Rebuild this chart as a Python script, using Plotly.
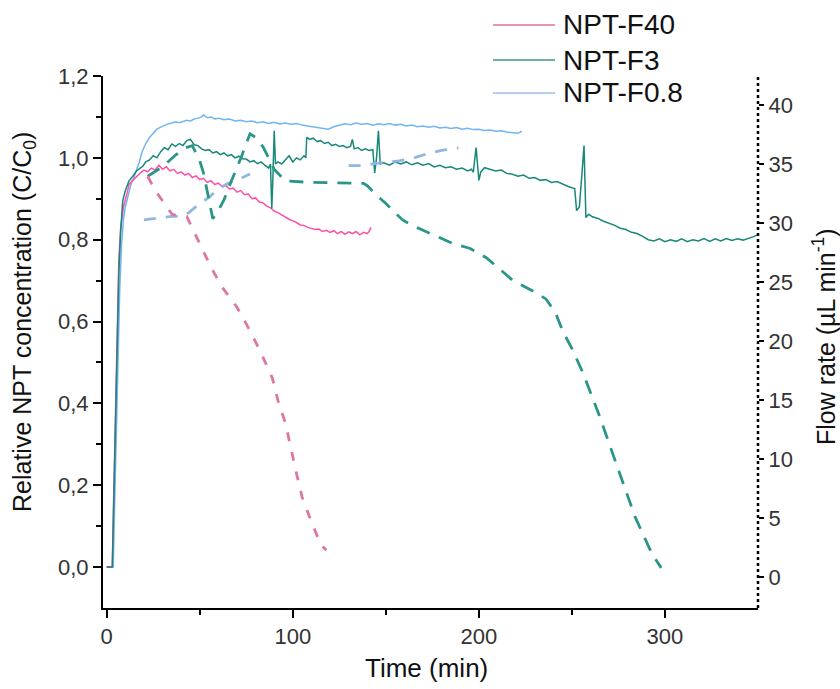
import plotly.graph_objects as go

# ---------------- data ----------------
# Relative NPT concentration C/C0 vs time (min)
F40_CONC = [(0,0),(3,0),(3.5,0.12),(4.5,0.35),(5.5,0.6),(6.5,0.75),(7.5,0.83),(9,0.88),(11,0.915),(12,0.935),
            (14,0.945),(16,0.955),(18,0.963),(20,0.97),(22,0.966),(24,0.975),(26,0.97),(28,0.982),(30,0.972),(32,0.978),
            (34,0.968),(36,0.972),(38,0.962),(40,0.966),(42,0.958),(44,0.962),(46,0.952),(48,0.956),(50,0.947),(52,0.95),
            (54,0.94),(56,0.944),(58,0.935),(60,0.938),(62,0.93),(64,0.932),(66,0.924),(68,0.926),(70,0.916),(72,0.92),
            (74,0.91),(76,0.912),(78,0.9),(80,0.902),(82,0.892),(84,0.89),(86,0.882),(88,0.878),(90,0.87),(92,0.866),
            (94,0.86),(96,0.855),(98,0.85),(100,0.846),(102,0.842),(104,0.836),(106,0.835),(108,0.83),(110,0.828),(112,0.825),
            (114,0.826),(116,0.82),(118,0.823),(120,0.818),(122,0.822),(124,0.815),(126,0.82),(128,0.813),(130,0.819),(132,0.815),
            (134,0.82),(136,0.812),(138,0.818),(140,0.815),(141,0.82),(142,0.83)]

F3_CONC = [(0,0),(3,0),(3.5,0.1),(4.5,0.3),(5.5,0.55),(6.5,0.72),(7.5,0.82),(8.6,0.895),(10,0.92),(12,0.944),
           (14,0.955),(16,0.968),(18,0.975),(19.5,0.98),(21,0.99),(23,0.995),(25,1.005),(27,1.0),(29,1.015),(31,1.025),
           (33,1.02),(35,1.034),(37,1.028),(39,1.035),(41,1.03),(43,1.042),(45,1.045),(47,1.032),(49,1.03),(51,1.022),
           (53,1.018),(55,1.02),(57,1.012),(59,1.015),(61,1.008),(63,1.012),(65,1.005),(67,1.008),(69,1.0),(71,1.004),
           (73,0.998),(75,0.997),(77,0.99),(79,0.993),(81,0.986),(83,0.99),(85,0.982),(87,0.975),(88,0.985),(88.7,0.876),
           (89.3,0.95),(90,1.066),(90.7,0.985),(92,0.99),(94,0.985),(96,0.995),(98,1.005),(100,0.99),(102,1.0),(104,0.995),
           (106,1.005),(107,1.0),(107.5,1.05),(109,1.045),(111,1.048),(113,1.04),(115,1.042),(117,1.035),(119,1.038),(121,1.03),
           (123,1.033),(125,1.028),(127,1.03),(129,1.025),(131,1.028),(132,1.045),(133,1.022),(135,1.025),(137,1.018),(139,1.022),
           (141,1.018),(143,1.02),(144,0.963),(145,1.0),(146,1.066),(147,0.985),(149,0.988),(152,0.982),(155,0.99),(158,0.985),
           (161,0.99),(164,0.983),(167,0.988),(170,0.982),(173,0.986),(176,0.978),(179,0.982),(182,0.976),(185,0.978),(188,0.972),
           (191,0.975),(194,0.968),(196,0.972),(197,0.965),(198.5,1.025),(200,0.945),(201,0.965),(203,0.976),(206,0.972),(209,0.968),
           (212,0.97),(215,0.962),(218,0.96),(221,0.955),(224,0.958),(227,0.95),(230,0.952),(233,0.945),(236,0.947),(239,0.94),
           (242,0.942),(245,0.935),(248,0.93),(250,0.927),(251.5,0.925),(252.5,0.871),(254,0.88),(255.5,0.968),(256.5,1.03),(257.5,0.854),
           (259,0.862),(261,0.856),(264,0.852),(267,0.845),(270,0.84),(273,0.835),(276,0.828),(279,0.825),(282,0.818),(285,0.815),
           (288,0.808),(291,0.8),(294,0.797),(297,0.802),(300,0.795),(303,0.8),(306,0.796),(309,0.802),(312,0.795),(315,0.8),
           (318,0.797),(321,0.803),(324,0.796),(327,0.802),(330,0.797),(333,0.803),(336,0.798),(339,0.802),(342,0.799),(345,0.803),
           (348,0.808),(350,0.812)]

F08_CONC = [(0,0),(3.5,0),(4,0.1),(5,0.3),(6,0.5),(7,0.68),(8,0.79),(9,0.85),(10,0.88),(11,0.9),
            (12,0.92),(13,0.935),(14.5,0.95),(16,0.968),(17.5,0.99),(19,1.015),(21,1.035),(23,1.05),(25,1.06),(27,1.07),
            (29,1.075),(31,1.08),(33,1.083),(35,1.085),(37,1.088),(39,1.086),(41,1.09),(43,1.092),(45,1.09),(47,1.095),
            (49,1.097),(51,1.1),(52,1.105),(54,1.098),(56,1.1),(58,1.095),(60,1.097),(63,1.093),(66,1.095),(69,1.09),
            (72,1.092),(75,1.088),(78,1.09),(81,1.086),(84,1.088),(87,1.084),(90,1.087),(93,1.083),(96,1.085),(99,1.082),
            (102,1.084),(105,1.08),(108,1.078),(111,1.076),(114,1.074),(117,1.071),(119,1.07),(122,1.076),(125,1.08),(128,1.083),
            (131,1.081),(134,1.085),(137,1.082),(140,1.084),(143,1.08),(146,1.083),(149,1.081),(152,1.084),(155,1.08),(158,1.082),
            (161,1.078),(164,1.08),(167,1.076),(170,1.078),(173,1.075),(176,1.077),(179,1.073),(182,1.075),(185,1.072),(188,1.074),
            (191,1.07),(194,1.072),(197,1.069),(200,1.07),(203,1.067),(206,1.068),(209,1.065),(212,1.066),(215,1.063),(218,1.062),
            (221,1.06),(223,1.065)]

# Flow rate (uL/min) vs time (min), dashed, right axis
F40_FLOW = [(22,34.0),(26,32.8),(31,31.7),(35,30.8),(39,30.6),(43,30.6),(46,29.6),(50,28.3),(56,26.3),(62,24.6),
            (70,22.9),(77,20.9),(83,19.0),(89,16.9),(92,15.0),(96,13.1),(99,10.8),(102,8.8),(105,6.8),(110,4.7),
            (115,2.8),(118,2.3)]
F3_FLOW = [(22,34.0),(30,34.8),(37,35.8),(42,36.4),(46,36.6),(50,35.3),(52,34.3),(54,32.8),(57,30.4),(60,31.1),
           (63,32.0),(67,33.6),(72,35.5),(77,37.6),(80,37.3),(84,36.5),(90,34.6),(96,33.6),(107,33.5),(138,33.4),
           (140,33.2),(145,32.4),(150,31.7),(155,30.9),(159,30.3),(166,29.7),(176,29.0),(186,28.3),(195,27.9),(204,27.1),
           (218,25.2),(231,24.1),(236,23.6),(241,22.5),(245,20.9),(250,19.4),(256,17.3),(265,13.6),(275,9.1),(284,5.1),
           (293,2.0),(298,0.8)]
F08_FLOW = [(20,30.3),(25,30.4),(30,30.5),(35,30.6),(41,30.6),(44,30.9),(47,31.3),(51,31.8),(55,32.2),(59,32.8),
            (64,33.3),(68,33.6),(73,33.9),(77,34.2),(None,None),(130,34.9),(137,34.9),(145,35.1),(157,35.3),(166,35.6),
            (172,35.9),(180,36.2),(189,36.4)]

SERIES = ["NPT-F40", "NPT-F3", "NPT-F0.8"]
X_TICKS = [0, 100, 200, 300]
Y_TICKS = [0.0, 0.2, 0.4, 0.6, 0.8, 1.0, 1.2]
Y2_TICKS = [0, 5, 10, 15, 20, 25, 30, 35, 40]

COL_SOLID = {"NPT-F40": "#ff4fa7", "NPT-F3": "#17887a", "NPT-F0.8": "#72b4f4"}
COL_DASH = {"NPT-F40": "#de76a6", "NPT-F3": "#2a9688", "NPT-F0.8": "#90b6e2"}
COL_LEG = {"NPT-F40": "#e0708f", "NPT-F3": "#3f9484", "NPT-F0.8": "#9dbfea"}
DASHES = {"NPT-F40": "9px,11px", "NPT-F3": "14px,10px", "NPT-F0.8": "12px,10px"}

FONT = "Arial, Liberation Sans, sans-serif"


def xs(pairs):
    return [p[0] for p in pairs]


def ys(pairs):
    return [p[1] for p in pairs]


fig = go.Figure()

flows = {"NPT-F40": F40_FLOW, "NPT-F3": F3_FLOW, "NPT-F0.8": F08_FLOW}
concs = {"NPT-F40": F40_CONC, "NPT-F3": F3_CONC, "NPT-F0.8": F08_CONC}

for name in ["NPT-F0.8", "NPT-F3", "NPT-F40"]:
    fig.add_trace(go.Scatter(x=xs(flows[name]), y=ys(flows[name]), yaxis="y2", mode="lines",
                             line=dict(color=COL_DASH[name], width=2.8, dash=DASHES[name]),
                             connectgaps=False, showlegend=False, hoverinfo="skip"))

for name in ["NPT-F0.8", "NPT-F40", "NPT-F3"]:
    fig.add_trace(go.Scatter(x=xs(concs[name]), y=ys(concs[name]), mode="lines", name=name,
                             line=dict(color=COL_SOLID[name], width=1.5), showlegend=False))

# manual legend (long sample lines as in the reference)
shapes = []
annotations = []
leg_rows_px = [25, 60, 93]
plot_l, plot_r, plot_t, plot_b = 103, 758, 76, 608
W = plot_r - plot_l
H = plot_b - plot_t


def px2x(px):
    return (px - plot_l) / W


def px2y(py):
    return (plot_b - py) / H


for name, ypx in zip(SERIES, leg_rows_px):
    shapes.append(dict(type="line", xref="paper", yref="paper", x0=px2x(493), x1=px2x(555),
                       y0=px2y(ypx), y1=px2y(ypx), line=dict(color=COL_LEG[name], width=1.6)))
    annotations.append(dict(xref="paper", yref="paper", x=px2x(561), y=px2y(ypx), text=name,
                            xanchor="left", yanchor="middle", showarrow=False,
                            font=dict(family=FONT, size=28, color="#111111")))

# dotted right axis line
shapes.append(dict(type="line", xref="paper", yref="paper", x0=1, x1=1, y0=0, y1=1,
                   line=dict(color="black", width=2.5, dash="dot")))

# axis titles
annotations.append(dict(xref="paper", yref="paper", x=px2x(24), y=px2y(322),
                        text="Relative NPT concentration (C/C<sub>0</sub>)", textangle=-90,
                        showarrow=False, xanchor="center", yanchor="middle",
                        font=dict(family=FONT, size=25, color="#111111")))
annotations.append(dict(xref="paper", yref="paper", x=px2x(824), y=px2y(336),
                        text="Flow rate (µL min<sup>-1</sup>)", textangle=-90,
                        showarrow=False, xanchor="center", yanchor="middle",
                        font=dict(family=FONT, size=25, color="#111111")))
annotations.append(dict(xref="paper", yref="paper", x=px2x(426), y=px2y(668),
                        text="Time (min)", showarrow=False, xanchor="center", yanchor="middle",
                        font=dict(family=FONT, size=26, color="#111111")))

fig.update_layout(
    width=840, height=689,
    margin=dict(l=plot_l, r=840 - plot_r, t=plot_t, b=689 - plot_b, pad=0),
    paper_bgcolor="white", plot_bgcolor="white",
    separators=", ",
    showlegend=False,
    font=dict(family=FONT, size=22, color="#333333"),
    xaxis=dict(range=[-2, 350], tickvals=X_TICKS, showgrid=False, zeroline=False,
               showline=True, linecolor="black", linewidth=2, mirror=False,
               ticks="outside", ticklen=8, tickwidth=2, tickcolor="black",
               tickfont=dict(size=22, color="#333333"),
               minor=dict(tickvals=[50, 150, 250], ticks="outside", ticklen=5, tickwidth=2, tickcolor="black")),
    yaxis=dict(range=[-0.1, 1.2], tickvals=Y_TICKS, tickformat=".1f", showgrid=False, zeroline=False,
               showline=True, linecolor="black", linewidth=2,
               ticks="outside", ticklen=8, tickwidth=2, tickcolor="black",
               tickfont=dict(size=22, color="#333333"),
               minor=dict(tickvals=[0.1, 0.3, 0.5, 0.7, 0.9, 1.1], ticks="outside", ticklen=5, tickwidth=2,
                          tickcolor="black")),
    yaxis2=dict(range=[-2.6, 42.5], tickvals=Y2_TICKS, overlaying="y", side="right", anchor="x",
                showgrid=False, zeroline=False, showline=False,
                ticks="outside", ticklen=5, tickwidth=2, tickcolor="black",
                tickfont=dict(size=22, color="#333333")),
    shapes=shapes,
    annotations=annotations,
)

fig.write_html("out.html", config={"displayModeBar": False},
               post_script="document.body.style.margin='0';document.body.style.overflow='hidden';")
